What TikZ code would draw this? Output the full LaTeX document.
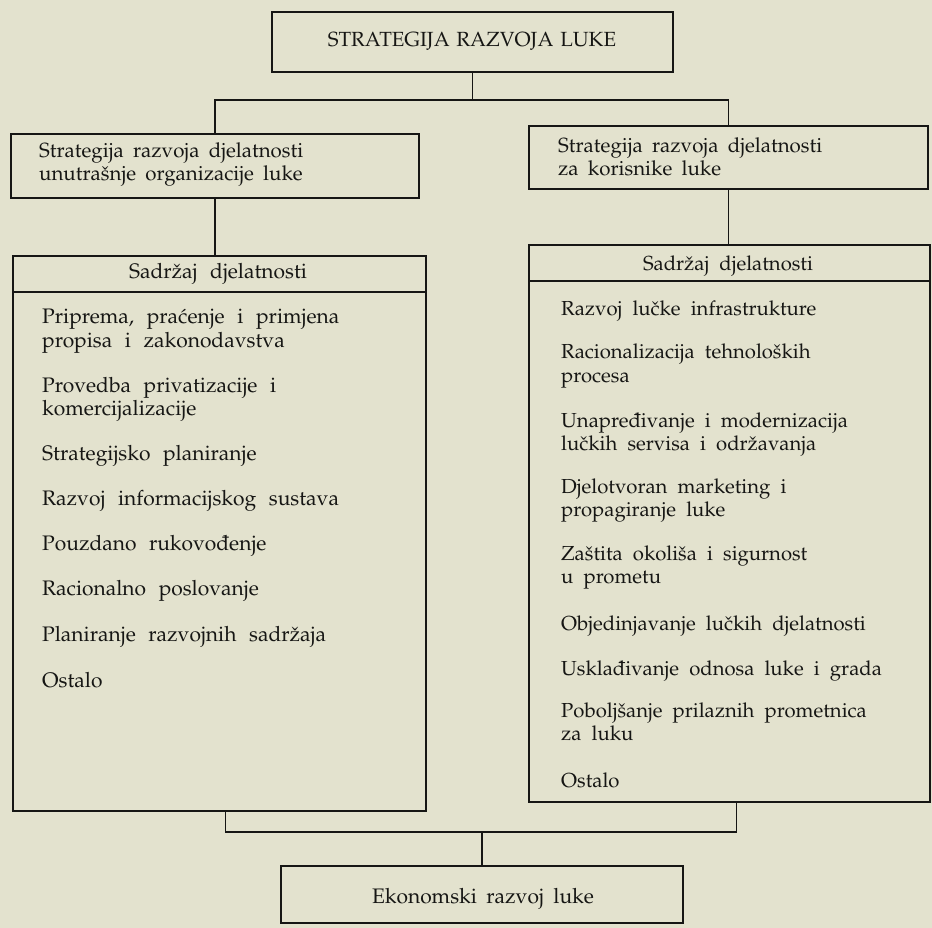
\documentclass[tikz,border=0pt]{standalone}
\IfFileExists{mathpazo.sty}{%
  \usepackage[T1]{fontenc}\usepackage{mathpazo}%
}{%
  \usepackage{fontspec}\setmainfont{Liberation Serif}%
}
\definecolor{paper}{RGB}{227,226,206}
\definecolor{ink}{RGB}{22,22,20}
% text sizes with the wide word spacing of the lists
\newcommand\itemfont{\fontsize{21}{23.5}\selectfont\spaceskip=0.6em plus 0.1em\relax}
\newcommand\itemfontR{\fontsize{20.3}{23.5}\selectfont\spaceskip=0.5em plus 0.1em\relax}
\newcommand\titlefont{\fontsize{20.5}{23.5}\selectfont\spaceskip=0.33em plus 0.1em\relax}
\newcommand\headfont{\fontsize{20.5}{23.5}\selectfont\spaceskip=0.45em plus 0.1em\relax}
\newcommand\ekofont{\fontsize{21}{23.5}\selectfont\spaceskip=0.45em plus 0.1em\relax}
\tikzset{
  box/.style={draw=ink, line width=1.7pt, rectangle, anchor=north west, inner sep=0pt},
  link/.style={draw=ink, line width=1.7pt},
  label/.style={text=ink, font=\itemfont, inner sep=0pt, anchor=base west},
  labelR/.style={label, font=\itemfontR},
  hlabel/.style={label, font=\headfont},
  clabel/.style={text=ink, font=\itemfont, inner sep=0pt, anchor=base},
}
\begin{document}
\begin{tikzpicture}[x=1pt,y=-1pt]
  % sheet
  \fill[paper] (0,0) rectangle (932,928);
  \useasboundingbox (0,0) rectangle (932,928);

  % boxes
  \node[box, minimum width=401, minimum height=60] (top) at (271,11) {};
  \node[box, minimum width=408, minimum height=64] (s1) at (10,133) {};
  \node[box, minimum width=399, minimum height=63] (s2) at (528,125) {};
  \node[box, minimum width=413, minimum height=555] (c1) at (12,255) {};
  \node[box, minimum width=401, minimum height=557] (c2) at (528,244) {};
  \node[box, minimum width=402, minimum height=57] (eko) at (280,865) {};

  % header rules of the two content boxes
  \coordinate (h1) at (0,292);
  \coordinate (h2) at (0,281);
  \draw[link] (c1.west |- h1) -- (c1.east |- h1);
  \draw[link] (c2.west |- h2) -- (c2.east |- h2);

  % connectors
  \coordinate (bus1) at (0,100);
  \coordinate (bus2) at (0,832);
  \draw[link] (top.south) -- (top.south |- bus1);
  \draw[link] (s1.north) -- (s1.north |- bus1) -- (s2.north |- bus1) -- (s2.north);
  \draw[link] (s1.south) -- (s1.south |- c1.north);
  \draw[link] (s2.south) -- (s2.south |- c2.north);
  \draw[link] ([xshift=6pt]c1.south) -- ([xshift=6pt]c1.south |- bus2)
              -- ([xshift=7pt]c2.south |- bus2) -- ([xshift=7pt]c2.south);
  \draw[link] (eko.north) -- (eko.north |- bus2);

  % texts
  \node[clabel, font=\titlefont] (ttop) at (472,47) {STRATEGIJA RAZVOJA LUKE};
  \node[hlabel] (ts1a) at (39,158) {Strategija razvoja djelatnosti};
  \node[hlabel] (ts1b) at (39,181) {unutra\v{s}nje organizacije luke};
  \node[hlabel] (ts2a) at (558,153) {Strategija razvoja djelatnosti};
  \node[hlabel] (ts2b) at (558,176) {za korisnike luke};
  \node[clabel] (hc1) at (218,279) {Sadr\v{z}aj djelatnosti};
  \node[clabel, font=\itemfontR] (hc2) at (728,271) {Sadr\v{z}aj djelatnosti};
  \node[clabel, font=\ekofont] (teko) at (483,903) {Ekonomski razvoj luke};

  % activities for the internal organisation
  \foreach \y/\t [count=\i] in {
      323/{Priprema, pra\'cenje i primjena},
      347/{propisa i zakonodavstva},
      392/{Provedba privatizacije i},
      415/{komercijalizacije},
      460/{Strategijsko planiranje},
      505/{Razvoj informacijskog sustava},
      550/{Pouzdano rukovo\dj enje},
      595/{Racionalno poslovanje},
      641/{Planiranje razvojnih sadr\v{z}aja},
      687/{Ostalo}}
    \node[label] (L\i) at (42,\y) {\t};

  % activities for the port users
  \foreach \y/\t [count=\i] in {
      315/{Razvoj lu\v{c}ke infrastrukture},
      358/{Racionalizacija tehnolo\v{s}kih},
      382/{procesa},
      427/{Unapre\dj ivanje i modernizacija},
      450/{lu\v{c}kih servisa i odr\v{z}avanja},
      493/{Djelotvoran marketing i},
      516/{propagiranje luke},
      560/{Za\v{s}tita okoli\v{s}a i sigurnost},
      583/{u prometu},
      630/{Objedinjavanje lu\v{c}kih djelatnosti},
      675/{Uskla\dj ivanje odnosa luke i grada},
      717/{Pobolj\v{s}anje prilaznih prometnica},
      740/{za luku},
      787/{Ostalo}}
    \node[labelR] (R\i) at (561,\y) {\t};
\end{tikzpicture}
\end{document}
